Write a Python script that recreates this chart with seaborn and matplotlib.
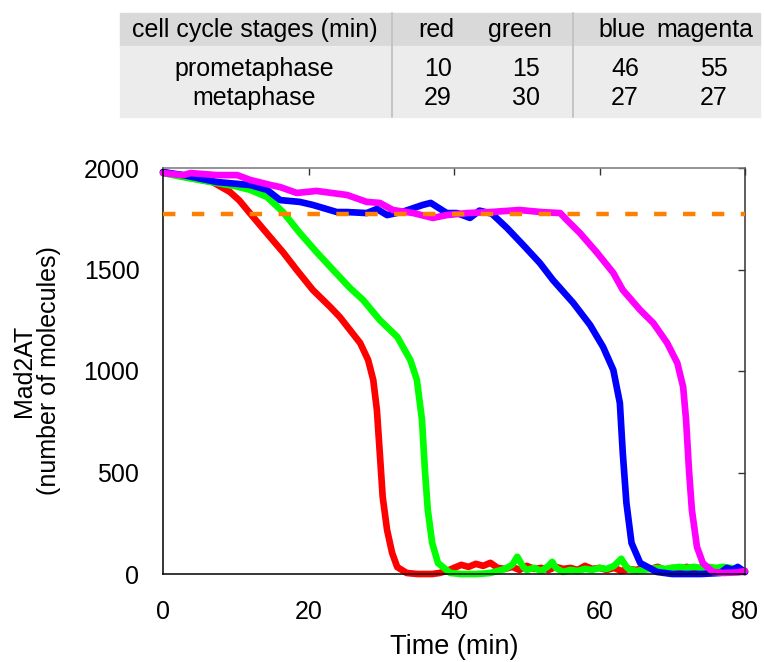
import numpy as np
import pandas as pd
import seaborn as sns
import matplotlib.pyplot as plt
from matplotlib.patches import Rectangle
from matplotlib.lines import Line2D

# ---------------- data ----------------
red_t = [0, 2, 4, 6.8, 9.2, 10.5, 12, 14, 16.5, 18.4, 20.6, 23, 24.3, 25.7,
         27.1, 28.2, 28.9, 29.4, 29.8, 30.2, 30.8, 31.5, 32.2, 33.5, 35, 37,
         38, 39, 40, 41, 42, 43, 44, 45, 46, 47, 48, 49, 50, 51, 52, 53, 54, 55,
         56, 57, 58, 59, 60, 61, 62, 63, 64, 65, 66, 67, 68, 69, 70, 71, 72, 73,
         74, 75, 76, 77, 78, 79, 80]
red_v = [1980, 1965, 1950, 1931, 1882, 1840, 1775, 1690, 1585, 1497, 1399, 1315, 1266, 1202,
         1138, 1054, 956, 808, 596, 379, 217, 103, 34, 5, 0, 0,
         5, 15, 30, 45, 35, 50, 40, 55, 30, 25, 35, 20, 40, 25, 30, 20, 35, 25,
         30, 20, 40, 25, 30, 20, 30, 15, 25, 20, 30, 25, 35, 20, 30, 25, 35, 20,
         30, 25, 20, 30, 20, 15, 10]

green_t = [0, 2.8, 7.4, 10, 12, 14.3, 16.5, 18.8, 21.1, 23.4, 25.7, 27.5, 29.8, 32.2,
           34, 34.9, 35.6, 36, 36.4, 37, 37.8, 39.5, 41, 43, 44, 45, 46, 47, 48,
           48.7, 49.5, 50, 51, 52, 53, 53.5, 54, 55, 56, 57, 58, 59, 60, 61, 62,
           63, 63.7, 64, 65, 66, 67, 68, 69, 70, 71, 72, 73, 74, 75, 76, 77, 78,
           79, 80]
green_v = [1975, 1955, 1926, 1910, 1892, 1857, 1783, 1680, 1586, 1497, 1409, 1350, 1251, 1168,
           1054, 956, 759, 512, 315, 153, 54, 5, 0, 0, 2, 5, 15, 25, 45,
           85, 35, 20, 30, 15, 40, 60, 30, 10, 20, 15, 25, 20, 30, 25, 40,
           75, 35, 25, 15, 20, 25, 30, 25, 30, 35, 30, 35, 30, 35, 30, 35, 30,
           25, 15]

blue_t = [0, 2.8, 7.4, 12, 14.3, 16.1, 18.8, 20.6, 23.9, 25.3, 28, 29.4, 30.8, 33,
          35.7, 36.8, 39, 40.4, 42.2, 43.5, 45.2, 47.3, 49.5, 51.8, 53.6, 56.4,
          58.7, 60.5, 61.9, 62.8, 63.2, 63.7, 64.4, 65.6, 67.9, 70, 74, 76.6,
          77.5, 78.3, 79, 80]
blue_v = [1980, 1965, 1931, 1916, 1892, 1842, 1833, 1818, 1783, 1783, 1778, 1798, 1768, 1785,
          1818, 1828, 1778, 1778, 1754, 1790, 1775, 1704, 1621, 1532, 1448, 1335,
          1227, 1118, 1005, 842, 596, 350, 153, 54, 10, 0, 0, 5,
          30, 20, 35, 10]

magenta_t = [0, 2.8, 3.8, 7.4, 10.2, 12, 14.8, 16.1, 18.4, 21.1, 25.3, 28, 29.8, 31.6,
             34.4, 37.1, 39, 41.8, 45, 49, 52, 54.6, 55.5, 57.3, 59.7, 61.9, 63.2,
             65.6, 67.4, 69.3, 70.7, 71.5, 71.9, 72.3, 72.7, 73.4, 74.2, 75.6, 77,
             79, 80]
magenta_v = [1975, 1965, 1975, 1965, 1965, 1941, 1916, 1906, 1877, 1887, 1867, 1833, 1828, 1793,
             1778, 1754, 1768, 1778, 1783, 1793, 1783, 1778, 1744, 1680, 1581, 1483, 1399,
             1300, 1236, 1138, 1039, 921, 759, 512, 315, 133, 54, 10, 5,
             8, 15]

threshold = 1775

cells = ["red", "green", "blue", "magenta"]
colors = ["#ff0000", "#00ff00", "#0000ff", "#ff00ff"]

stage_labels = ["prometaphase", "metaphase"]
prometaphase = [10, 15, 46, 55]
metaphase = [29, 30, 27, 27]

# ---------------- long-form table ----------------
series = {"red": (red_t, red_v), "green": (green_t, green_v),
          "blue": (blue_t, blue_v), "magenta": (magenta_t, magenta_v)}
df = pd.concat([pd.DataFrame({"time": t, "mad2": v, "cell": name})
                for name, (t, v) in series.items()], ignore_index=True)

sns.set_theme(style="white")
plt.rcParams["font.family"] = ["Liberation Sans", "DejaVu Sans"]
plt.rcParams["text.color"] = "black"
plt.rcParams["axes.labelcolor"] = "black"
plt.rcParams["xtick.color"] = "black"
plt.rcParams["ytick.color"] = "black"

W, H = 764, 662
fig = plt.figure(figsize=(W / 100, H / 100), dpi=100)
ax = fig.add_axes([163 / W, 1 - 574 / H, (745 - 163) / W, (574 - 168) / H])

sns.lineplot(data=df, x="time", y="mad2", hue="cell", hue_order=cells,
             palette=dict(zip(cells, colors)), estimator=None, sort=False,
             lw=4.8, legend=False, ax=ax)
for line in ax.lines:
    line.set_clip_on(False)
    line.set_solid_joinstyle("round")
ax.axhline(threshold, color="#ff8000", lw=3.2, dashes=(2.8, 3.7),
           dash_capstyle="butt", zorder=5)

ax.set_xlim(0, 80)
ax.set_ylim(0, 2000)
ax.set_xticks([0, 20, 40, 60, 80])
ax.set_yticks([0, 500, 1000, 1500, 2000])
ax.tick_params(axis="both", direction="in", length=5, width=1.0,
               top=True, right=True, labelsize=18, color="#333333")
ax.tick_params(axis="x", pad=19)
ax.tick_params(axis="y", pad=17)
for side in ["left", "bottom"]:
    ax.spines[side].set_color("black")
    ax.spines[side].set_linewidth(1.1)
ax.spines["top"].set_color("#777777")
ax.spines["right"].set_color("#333333")
ax.spines["top"].set_linewidth(1.1)
ax.spines["right"].set_linewidth(1.1)

ax.set_xlabel("Time (min)", fontsize=19.5, labelpad=7)
ax.set_ylabel("Mad2AT\n(number of molecules)", fontsize=18, linespacing=1.05,
              labelpad=16)

# ---------------- summary table above the axes ----------------
def fx(px):
    return px / W

def fy(py):
    return 1 - py / H

fig.patches.append(Rectangle((fx(120), fy(46)), fx(760) - fx(120), fy(13) - fy(46),
                             transform=fig.transFigure, color="#d9d9d9", zorder=0))
fig.patches.append(Rectangle((fx(120), fy(117)), fx(760) - fx(120), fy(46) - fy(117),
                             transform=fig.transFigure, color="#ececec", zorder=0))
for xd in [392, 573]:
    fig.lines.append(Line2D([fx(xd), fx(xd)], [fy(13), fy(117)],
                            transform=fig.transFigure, color="#c4c4c4", lw=1.4))

fs = 18
fig.text(fx(255), fy(30), "cell cycle stages (min)", ha="center", va="center", fontsize=fs)
for name, xc in zip(cells, [436, 520, 622, 705]):
    fig.text(fx(xc), fy(30), name, ha="center", va="center", fontsize=fs)
for label, vals, yc in zip(stage_labels, [prometaphase, metaphase], [69, 98]):
    fig.text(fx(254), fy(yc), label, ha="center", va="center", fontsize=fs)
    for v, xc in zip(vals, [438, 526, 625, 714]):
        fig.text(fx(xc), fy(yc), str(v), ha="center", va="center", fontsize=fs)

fig.savefig("out.png", dpi=100)
